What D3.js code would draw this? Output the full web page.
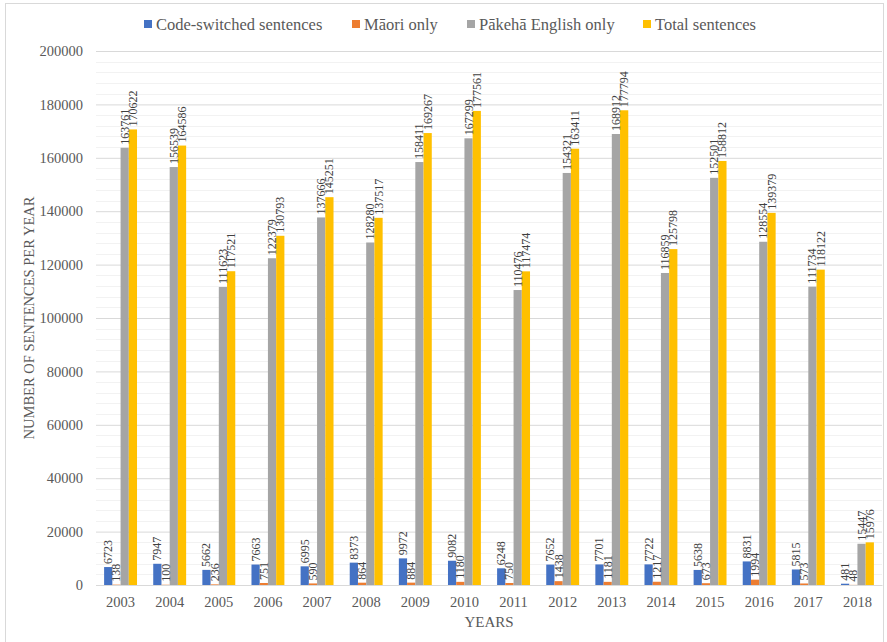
<!DOCTYPE html>
<html>
<head>
<meta charset="utf-8">
<script src="https://cdn.jsdelivr.net/npm/d3@7"></script>
<style>
  html, body { margin: 0; padding: 0; background: #fff; }
  svg { display: block; }
  svg text { font-family: "Liberation Serif", "Times New Roman", serif !important; }
</style>
</head>
<body>
<svg id="chart" width="887" height="642"></svg>
<script>
const years = ["2003","2004","2005","2006","2007","2008","2009","2010","2011","2012","2013","2014","2015","2016","2017","2018"];
const seriesNames = ["Code-switched sentences","Māori only","Pākehā English only","Total sentences"];
const codeSwitched = [6723,7947,5662,7663,6995,8373,9972,9082,6248,7652,7701,7722,5638,8831,5815,481];
const maoriOnly = [138,100,236,751,590,864,884,1180,750,1438,1181,1217,673,1994,573,48];
const pakehaOnly = [163761,156539,111623,122379,137666,128280,158411,167299,110476,154321,168912,116859,152501,128554,111734,15447];
const totalSentences = [170622,164586,117521,130793,145251,137517,169267,177561,117474,163411,177794,125798,158812,139379,118122,15976];
const yTicks = [0,20000,40000,60000,80000,100000,120000,140000,160000,180000,200000];
const colors = ["#4472C4","#ED7D31","#A5A5A5","#FFC000"];

const seriesValues = [codeSwitched, maoriOnly, pakehaOnly, totalSentences];
const svg = d3.select("#chart");
const FONT = '"Liberation Serif", "Times New Roman", serif';

// chart border
svg.append("rect").attr("x",5.5).attr("y",3.5).attr("width",878).attr("height",650)
  .attr("fill","none").attr("stroke","#d9d9d9").attr("stroke-width",1);

const pLeft = 96, pRight = 882, pTop = 51, pBottom = 585;
const x = d3.scaleBand().domain(years).range([pLeft, pRight]).paddingInner(0.33).paddingOuter(0.165);
const xs = d3.scaleBand().domain(seriesNames).range([0, x.bandwidth()]).padding(0);
const y = d3.scaleLinear().domain([0,200000]).range([pBottom, pTop]);

// minor gridlines
const minor = d3.range(0, 200001, 4000).filter(v => v % 20000 !== 0);
svg.append("g").selectAll("line").data(minor).join("line")
  .attr("x1", pLeft).attr("x2", pRight)
  .attr("y1", d => Math.round(y(d)) + 0.5).attr("y2", d => Math.round(y(d)) + 0.5)
  .attr("stroke", "#f2f2f2").attr("stroke-width", 1);

// major gridlines via axis
const yAxis = d3.axisLeft(y).tickValues(yTicks).tickSize(-(pRight-pLeft)).tickFormat(d3.format("d")).tickPadding(13);
const gy = svg.append("g").attr("transform", `translate(${pLeft},0)`).call(yAxis);
gy.select(".domain").remove();
gy.selectAll(".tick line").attr("stroke", "#d9d9d9");
gy.selectAll(".tick text").attr("fill", "#595959").style("font-size", "14.5px").attr("font-family", FONT);

// bars
const groups = svg.append("g").selectAll("g").data(years).join("g")
  .attr("transform", d => `translate(${x(d)},0)`);

groups.selectAll("rect").data((d,i) => seriesNames.map((s,j) => ({s, j, v: seriesValues[j][i]})))
  .join("rect")
  .attr("x", d => xs(d.s))
  .attr("width", xs.bandwidth())
  .attr("y", d => y(d.v))
  .attr("height", d => pBottom - y(d.v))
  .attr("fill", d => colors[d.j]);

// value labels
groups.selectAll("text").data((d,i) => seriesNames.map((s,j) => ({s, j, v: seriesValues[j][i]})))
  .join("text")
  .attr("transform", d => `translate(${xs(d.s) + xs.bandwidth()/2},${y(d.v) - 3}) rotate(-90)`)
  .attr("dominant-baseline", "central")
  .attr("text-anchor", "start")
  .attr("fill", "#404040")
  .attr("font-family", FONT)
  .style("font-size", "12px")
  .text(d => d.v);

// x axis
const xAxis = d3.axisBottom(x).tickSize(0).tickPadding(12);
const gx = svg.append("g").attr("transform", `translate(0,${pBottom})`).call(xAxis);
gx.select(".domain").attr("stroke", "#d9d9d9");
gx.selectAll(".tick text").attr("fill", "#595959").style("font-size", "14.5px").attr("font-family", FONT);

// axis titles
svg.append("text").attr("x", (pLeft+pRight)/2).attr("y", 627).attr("text-anchor","middle")
  .attr("font-family", FONT).attr("fill","#595959").style("font-size","15px").text("YEARS");
svg.append("text").attr("transform", `translate(34,${(pTop+pBottom)/2}) rotate(-90)`)
  .attr("text-anchor","middle").attr("fill","#595959").style("font-size","14.5px")
  .attr("font-family", FONT)
  .text("NUMBER OF SENTENCES PER YEAR");

// legend
const legendX = [144, 352, 467, 643];
const lg = svg.append("g").selectAll("g").data(seriesNames).join("g")
  .attr("transform", (d,i) => `translate(${legendX[i]},24)`);
lg.append("rect").attr("x",0).attr("y",-4).attr("width",8).attr("height",8).attr("fill",(d,i)=>colors[i]);
lg.append("text").attr("x",12).attr("y",0).attr("dominant-baseline","central")
  .attr("font-family", FONT)
  .attr("fill","#595959").style("font-size","16.5px").text(d => d);
</script>
</body>
</html>
